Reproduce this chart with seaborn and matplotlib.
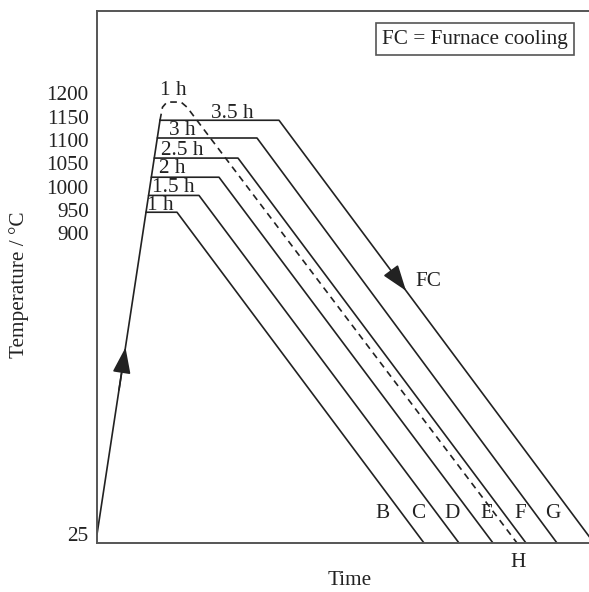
import numpy as np
import pandas as pd
import matplotlib
matplotlib.use("Agg")
import matplotlib.pyplot as plt
import seaborn as sns

# Daten (Zeit in willkuerlichen Einheiten, Temperatur in °C)
heat_time = [0, 63]
heat_temp = [25, 1142]

hold_labels = ["1 h", "1.5 h", "2 h", "2.5 h", "3 h", "3.5 h"]
hold_temp = [945, 981, 1020, 1061, 1104, 1142]
hold_start = [49, 51.6, 54.3, 57.2, 60.3, 63]
hold_end = [80, 102, 122, 141, 160, 182]
cool_end = [327, 362, 396, 429, 460, 497]
cool_temp = 0
curve_letters = ["B", "C", "D", "E", "F", "G"]

h_time = [63, 65.5, 70, 84, 90, 420]
h_temp = [1142, 1170, 1181, 1181, 1170, 0]

ytick_vals = [25, 900, 950, 1000, 1050, 1100, 1150, 1200]

# Positionen der Beschriftungen
hold_label_pos = [(63, 960), (76, 999), (75, 1039), (85, 1078), (85, 1121), (135, 1157)]
letter_pos_t = [285, 321, 355, 390, 423, 456]
letter_pos_T = 86

# gebrochene Temperaturachse: unten gestaucht, oben gedehnt
T_BREAKS = [-200, 25, 900, 1600]
PX_BREAKS = [-225 * 0.344, 0, 301, 301 + 700 * 0.4667]


def fwd(t):
    return np.interp(t, T_BREAKS, PX_BREAKS)


def inv(p):
    return np.interp(p, PX_BREAKS, T_BREAKS)


sns.set_theme(style="white")
plt.rcParams["font.family"] = ["Liberation Serif", "DejaVu Serif"]

FS = 15.3
LC = "#222222"
LW = 1.2

fig = plt.figure(figsize=(5.89, 5.92), dpi=100)
ax = fig.add_axes([97 / 589, 49 / 592, 492 / 589, 532 / 592])
ax.set_yscale("function", functions=(fwd, inv))

sns.lineplot(x=heat_time, y=heat_temp, ax=ax, color=LC, lw=LW, sort=False, estimator=None)

for i in range(len(hold_labels)):
    df = pd.DataFrame({
        "t": [hold_start[i], hold_end[i], cool_end[i]],
        "T": [hold_temp[i], hold_temp[i], cool_temp],
    })
    sns.lineplot(data=df, x="t", y="T", ax=ax, color=LC, lw=LW, sort=False, estimator=None)
    ax.text(hold_label_pos[i][0], hold_label_pos[i][1], hold_labels[i],
            ha="center", va="center", fontsize=FS, color=LC)
    ax.text(letter_pos_t[i], letter_pos_T, curve_letters[i],
            ha="center", va="center", fontsize=FS, color=LC)

sns.lineplot(x=h_time, y=h_temp, ax=ax, color=LC, lw=LW, sort=False, estimator=None,
             linestyle=(0, (4, 3)))
ax.text(76, 1206, "1 h", ha="center", va="center", fontsize=FS, color=LC)
ax.text(421, -56, "H", ha="center", va="center", fontsize=FS, color=LC, clip_on=False)

# Pfeile (Punkte liegen auf den Linien)
arrow = dict(arrowstyle="-|>,head_length=0.8,head_width=0.28", mutation_scale=20,
             color=LC, lw=LW, shrinkA=0, shrinkB=0)
ax.annotate("", xy=(28.5, 568), xytext=(22, 445), arrowprops=arrow)
ax.annotate("", xy=(309, 733), xytext=(298, 776), arrowprops=arrow)
ax.text(331, 760, "FC", ha="center", va="center", fontsize=FS, color=LC)

ax.text(0.768, 0.947, "FC = Furnace cooling", transform=ax.transAxes,
        ha="center", va="center", fontsize=FS, color=LC,
        bbox=dict(boxstyle="square,pad=0.3", fc="white", ec="#555555", lw=1.2))

ax.set_xlim(0, 492)
ax.set_ylim(0, 1376)
ax.set_yticks(ytick_vals)
ax.set_yticklabels([str(v) for v in ytick_vals])
ax.set_xticks([])
ax.minorticks_off()
ax.tick_params(axis="y", length=0, pad=6, labelsize=FS, labelcolor=LC)

ax.set_ylabel("Temperature / °C", fontsize=FS, color=LC)
ax.set_xlabel("Time", fontsize=FS, color=LC)
ax.yaxis.set_label_coords(-0.138, 0.485)
ax.xaxis.set_label_coords(0.514, -0.053)

for side in ["left", "top", "bottom"]:
    ax.spines[side].set_color("#555555")
    ax.spines[side].set_linewidth(1.4)
ax.spines["right"].set_visible(False)

fig.savefig("out.png", dpi=100)
